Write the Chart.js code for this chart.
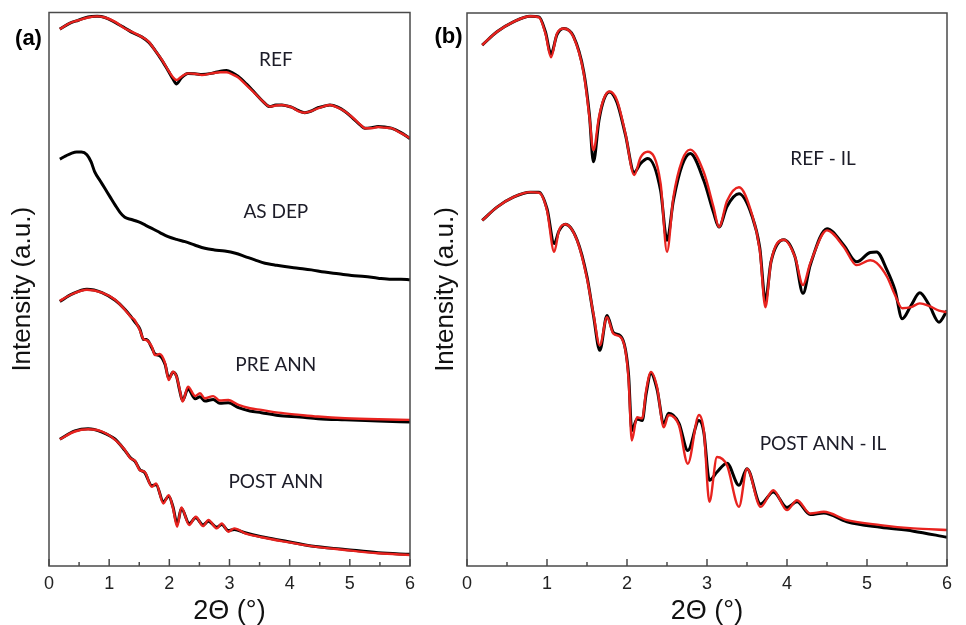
<!DOCTYPE html>
<html>
<head>
<meta charset="utf-8">
<script src="https://cdn.jsdelivr.net/npm/chart.js@4/dist/chart.umd.min.js"></script>
<style>
  html, body { margin: 0; padding: 0; background: #fff; }
  #wrap { position: relative; width: 966px; height: 625px; }
  canvas { position: absolute; top: 0; }
  #chartA { left: 0; }
  #chartB { left: 425px; }
</style>
</head>
<body>
<div id="wrap">
  <canvas id="chartA" width="425" height="625"></canvas>
  <canvas id="chartB" width="541" height="625"></canvas>
</div>
<script>
// ---- panel (a) ----
const refX = [0.18, 0.35, 0.49, 0.65, 0.80, 0.93, 1.10, 1.26, 1.40, 1.54, 1.66, 1.76, 1.88, 1.98, 2.06, 2.12, 2.20, 2.31, 2.45, 2.54, 2.70, 2.85, 2.95, 3.05, 3.14, 3.28, 3.42, 3.55, 3.67, 3.77, 3.87, 3.96, 4.03, 4.14, 4.25, 4.36, 4.47, 4.58, 4.67, 4.80, 4.92, 5.06, 5.18, 5.25, 5.36, 5.47, 5.58, 5.69, 5.85, 6.00];
const refData = [97.0, 98.1, 98.6, 99.2, 99.3, 99.1, 98.2, 97.2, 96.3, 95.6, 94.6, 93.2, 91.3, 89.5, 88.0, 87.1, 88.2, 89.0, 88.9, 88.8, 89.0, 89.4, 89.5, 89.1, 88.5, 87.1, 85.5, 84.0, 83.0, 83.3, 83.3, 83.1, 82.9, 82.3, 81.9, 82.2, 82.8, 83.1, 83.3, 82.9, 82.1, 80.8, 79.6, 79.1, 79.2, 79.4, 79.3, 79.1, 78.3, 77.2];
const refFit = [97.0, 98.1, 98.6, 99.1, 99.3, 99.1, 98.3, 97.1, 96.4, 95.6, 94.7, 93.2, 91.4, 89.6, 88.3, 87.8, 88.4, 89.0, 88.9, 88.7, 89.0, 89.2, 89.2, 88.8, 88.3, 86.9, 85.4, 84.0, 83.0, 83.2, 83.3, 83.1, 82.9, 82.2, 81.9, 82.2, 82.7, 83.1, 83.3, 82.8, 82.1, 80.9, 79.7, 79.1, 79.1, 79.3, 79.2, 79.1, 78.2, 77.3];

const asdepX = [0.18, 0.28, 0.38, 0.46, 0.54, 0.63, 0.70, 0.76, 0.85, 0.93, 1.02, 1.10, 1.18, 1.26, 1.37, 1.48, 1.60, 1.71, 1.85, 1.98, 2.12, 2.26, 2.42, 2.59, 2.75, 2.92, 3.10, 3.26, 3.42, 3.59, 3.75, 3.92, 4.14, 4.36, 4.58, 4.81, 5.03, 5.25, 5.47, 5.69, 5.85, 6.00];
const asdepData = [73.5, 74.1, 74.6, 74.8, 74.8, 74.3, 73.0, 71.2, 69.6, 68.2, 66.6, 65.2, 63.9, 63.0, 62.6, 62.2, 61.6, 61.0, 60.2, 59.5, 59.0, 58.6, 58.0, 57.4, 57.1, 56.9, 56.5, 55.9, 55.3, 54.7, 54.4, 54.1, 53.8, 53.5, 53.1, 52.8, 52.5, 52.3, 52.0, 51.8, 51.8, 51.7];

const preX = [0.18, 0.38, 0.63, 0.88, 1.10, 1.26, 1.36, 1.42, 1.51, 1.57, 1.62, 1.71, 1.76, 1.84, 1.93, 1.99, 2.06, 2.12, 2.17, 2.22, 2.31, 2.43, 2.51, 2.59, 2.73, 2.84, 2.98, 3.15, 3.34, 3.53, 3.81, 4.17, 4.47, 4.92, 5.47, 6.00];
const preData = [47.8, 49.1, 50.0, 49.4, 48.0, 46.4, 45.1, 44.2, 42.8, 40.9, 40.9, 39.4, 38.3, 38.0, 36.4, 33.9, 35.0, 34.3, 31.8, 29.9, 32.0, 30.2, 30.6, 29.8, 30.1, 29.4, 29.5, 28.6, 28.0, 27.7, 27.2, 26.9, 26.6, 26.4, 26.2, 26.0];
const preFit = [47.9, 49.1, 49.9, 49.4, 48.1, 46.3, 45.0, 44.5, 42.6, 41.0, 40.8, 39.6, 38.1, 38.3, 36.6, 33.6, 35.1, 34.2, 32.0, 29.7, 32.4, 30.7, 31.2, 30.3, 30.7, 29.9, 30.0, 29.1, 28.5, 28.2, 27.7, 27.3, 27.0, 26.7, 26.5, 26.4];

const postX = [0.18, 0.43, 0.65, 0.88, 1.10, 1.26, 1.35, 1.43, 1.51, 1.59, 1.71, 1.78, 1.90, 1.99, 2.06, 2.13, 2.20, 2.33, 2.44, 2.56, 2.65, 2.79, 2.87, 2.98, 3.08, 3.26, 3.53, 3.92, 4.36, 4.92, 5.47, 6.00];
const postData = [22.9, 24.4, 24.8, 24.2, 22.9, 20.9, 19.6, 18.9, 17.4, 16.9, 14.5, 14.7, 11.6, 12.6, 10.7, 7.6, 10.4, 7.7, 8.7, 7.4, 8.1, 7.0, 7.5, 6.4, 6.6, 6.0, 5.3, 4.5, 3.6, 3.0, 2.4, 2.1];
const postFit = [22.9, 24.3, 24.7, 24.3, 22.8, 21.0, 19.5, 19.0, 17.3, 17.0, 14.3, 14.9, 11.3, 12.8, 10.5, 7.1, 10.6, 7.4, 8.9, 7.2, 8.3, 6.8, 7.7, 6.2, 6.8, 5.9, 5.2, 4.4, 3.6, 2.9, 2.3, 2.0];

const labelsA = ['REF', 'AS DEP', 'PRE ANN', 'POST ANN'];
const labelAX = [3.77, 3.77, 3.77, 3.77];
const labelAY = [91.4, 64.0, 36.3, 15.2];

// ---- panel (b) ----
const reflX = [0.19, 0.375, 0.58, 0.79, 0.90, 0.98, 1.05, 1.125, 1.21, 1.33, 1.46, 1.53, 1.58, 1.65, 1.71, 1.78, 1.875, 1.98, 2.09, 2.17, 2.26, 2.42, 2.50, 2.58, 2.69, 2.79, 2.96, 3.08, 3.15, 3.25, 3.40, 3.56, 3.66, 3.73, 3.80, 3.96, 4.10, 4.20, 4.29, 4.50, 4.71, 4.87, 5.04, 5.12, 5.25, 5.35, 5.44, 5.55, 5.66, 5.78, 5.90, 6.00];
const reflData = [94.2, 96.6, 98.4, 99.4, 99.3, 96.6, 92.6, 96.1, 97.2, 95.8, 89.3, 81.6, 73.1, 80.6, 84.3, 85.7, 83.8, 78.0, 71.2, 72.8, 73.7, 67.9, 58.9, 66.1, 72.5, 74.6, 69.7, 64.0, 61.3, 65.0, 67.3, 63.4, 57.5, 48.0, 55.0, 59.0, 55.9, 49.3, 54.4, 61.0, 58.0, 55.0, 56.7, 56.8, 53.5, 49.9, 44.7, 47.1, 49.4, 47.1, 44.1, 46.2];
const reflFit = [94.2, 96.6, 98.4, 99.4, 99.2, 96.3, 92.0, 96.3, 97.2, 95.7, 89.0, 81.2, 75.2, 81.2, 84.5, 85.8, 84.2, 78.2, 70.7, 73.9, 74.9, 69.2, 56.8, 66.7, 73.4, 75.3, 71.2, 65.0, 61.3, 66.0, 68.5, 63.7, 57.1, 46.8, 55.0, 59.0, 55.9, 50.8, 54.7, 60.7, 57.7, 54.4, 55.3, 54.8, 52.3, 49.0, 46.6, 46.8, 47.5, 47.0, 46.2, 45.9];

const postilX = [0.19, 0.375, 0.58, 0.79, 0.90, 1.00, 1.09, 1.15, 1.23, 1.375, 1.50, 1.58, 1.66, 1.75, 1.83, 1.92, 1.98, 2.02, 2.06, 2.125, 2.19, 2.24, 2.30, 2.375, 2.46, 2.52, 2.65, 2.76, 2.90, 2.96, 3.03, 3.125, 3.25, 3.40, 3.50, 3.67, 3.83, 4.00, 4.125, 4.29, 4.46, 4.75, 5.17, 5.58, 6.00];
const postilData = [62.5, 64.9, 66.7, 67.6, 67.6, 64.6, 58.3, 60.6, 61.8, 59.0, 52.3, 45.4, 39.0, 45.3, 42.2, 41.6, 39.2, 34.5, 24.5, 26.6, 26.3, 31.2, 34.8, 32.0, 25.8, 27.6, 25.8, 20.9, 26.3, 24.2, 15.5, 17.0, 18.6, 14.6, 17.6, 11.2, 13.4, 10.6, 11.6, 9.3, 9.6, 8.0, 7.0, 6.3, 5.2];
const postilFit = [62.5, 64.9, 66.7, 67.6, 67.5, 64.3, 56.8, 60.7, 61.8, 58.9, 52.0, 45.6, 39.9, 45.0, 42.0, 41.4, 39.0, 33.6, 22.7, 26.9, 26.7, 31.8, 35.1, 32.4, 25.1, 27.3, 25.4, 18.5, 27.3, 24.5, 11.6, 19.7, 18.2, 10.7, 17.6, 10.7, 13.7, 10.1, 11.9, 9.5, 9.8, 8.3, 7.4, 6.8, 6.5];

const labelsB = ['REF - IL', 'POST ANN - IL'];
const labelBX = [4.45, 4.45];
const labelBY = [73.7, 22.1];

const xTicks = [0, 1, 2, 3, 4, 5, 6];

const SANS = "'Liberation Sans', Arial, sans-serif";

function pts(xs, ys) {
    return xs.map((x, i) => ({ x: x, y: ys[i] }));
}

// measured curve in black, fit in red (red drawn on top)
function curve(xs, ys, fit) {
    return {
        data: pts(xs, ys),
        borderColor: fit ? '#e8231f' : '#000000',
        borderWidth: fit ? 2.4 : 3,
        pointRadius: 0,
        fill: false,
        cubicInterpolationMode: 'monotone',
        order: fit ? 0 : 1
    };
}

// frame, inward ticks, curve labels and panel tag
const decor = {
    id: 'decor',
    afterDatasetsDraw(chart, args, opts) {
        const { ctx, chartArea: a, scales: { x, y } } = chart;
        ctx.save();
        ctx.strokeStyle = '#4a4a4a';
        ctx.lineWidth = 1.5;
        ctx.strokeRect(a.left, a.top, a.right - a.left, a.bottom - a.top);
        for (let v = 0; v <= 6; v += 0.5) {
            const px = x.getPixelForValue(v);
            const len = Number.isInteger(v) ? 7 : 4;
            ctx.beginPath();
            ctx.moveTo(px, a.bottom);
            ctx.lineTo(px, a.bottom - len);
            ctx.stroke();
        }
        ctx.fillStyle = '#1c1c28';
        ctx.font = '19px Lato, sans-serif';
        ctx.textAlign = 'center';
        ctx.textBaseline = 'middle';
        opts.names.forEach((t, i) => {
            ctx.fillText(t, x.getPixelForValue(opts.lx[i]), y.getPixelForValue(opts.ly[i]));
        });
        ctx.fillStyle = '#000';
        ctx.font = 'bold 22px ' + SANS;
        ctx.fillText(opts.tag, opts.tagX, opts.tagY);
        ctx.restore();
    }
};

function makeChart(id, datasets, cfg) {
    return new Chart(document.getElementById(id), {
        type: 'line',
        data: { datasets: datasets },
        plugins: [decor],
        options: {
            responsive: false,
            animation: false,
            layout: { padding: { left: 0, right: cfg.padRight, top: cfg.padTop, bottom: 0 } },
            plugins: {
                legend: { display: false },
                tooltip: { enabled: false },
                decor: cfg.decor
            },
            scales: {
                x: {
                    type: 'linear',
                    min: 0,
                    max: 6,
                    afterBuildTicks: s => { s.ticks = xTicks.map(v => ({ value: v })); },
                    ticks: { color: '#222', font: { family: SANS, size: 18 }, padding: 7, maxRotation: 0 },
                    grid: { display: false, drawTicks: false },
                    border: { display: false },
                    title: {
                        display: true, text: '2Θ (°)', color: '#111',
                        font: { family: SANS, size: 27, lineHeight: 1 },
                        padding: { top: 0, bottom: 0 }
                    },
                    afterFit: s => { s.height = 59; }
                },
                y: {
                    type: 'linear',
                    min: 0,
                    max: 100,
                    ticks: { display: false },
                    grid: { display: false, drawTicks: false },
                    border: { display: false },
                    title: {
                        display: true, text: 'Intensity (a.u.)', color: '#111',
                        font: { family: SANS, size: 26, lineHeight: 1 },
                        padding: { top: cfg.yTitlePad, bottom: 0 }
                    },
                    afterFit: s => { s.width = cfg.yWidth; }
                }
            }
        }
    });
}

makeChart('chartA', [
    curve(refX, refFit, true), curve(refX, refData, false),
    curve(asdepX, asdepData, false),
    curve(preX, preFit, true), curve(preX, preData, false),
    curve(postX, postFit, true), curve(postX, postData, false)
], {
    padRight: 15, padTop: 12.5, yWidth: 49, yTitlePad: 10,
    decor: { names: labelsA, lx: labelAX, ly: labelAY, tag: '(a)', tagX: 28.5, tagY: 39 }
});

makeChart('chartB', [
    curve(reflX, reflFit, true), curve(reflX, reflData, false),
    curve(postilX, postilFit, true), curve(postilX, postilData, false)
], {
    padRight: 19, padTop: 13, yWidth: 42, yTitlePad: 8,
    decor: { names: labelsB, lx: labelBX, ly: labelBY, tag: '(b)', tagX: 23.5, tagY: 37 }
});
</script>
</body>
</html>
